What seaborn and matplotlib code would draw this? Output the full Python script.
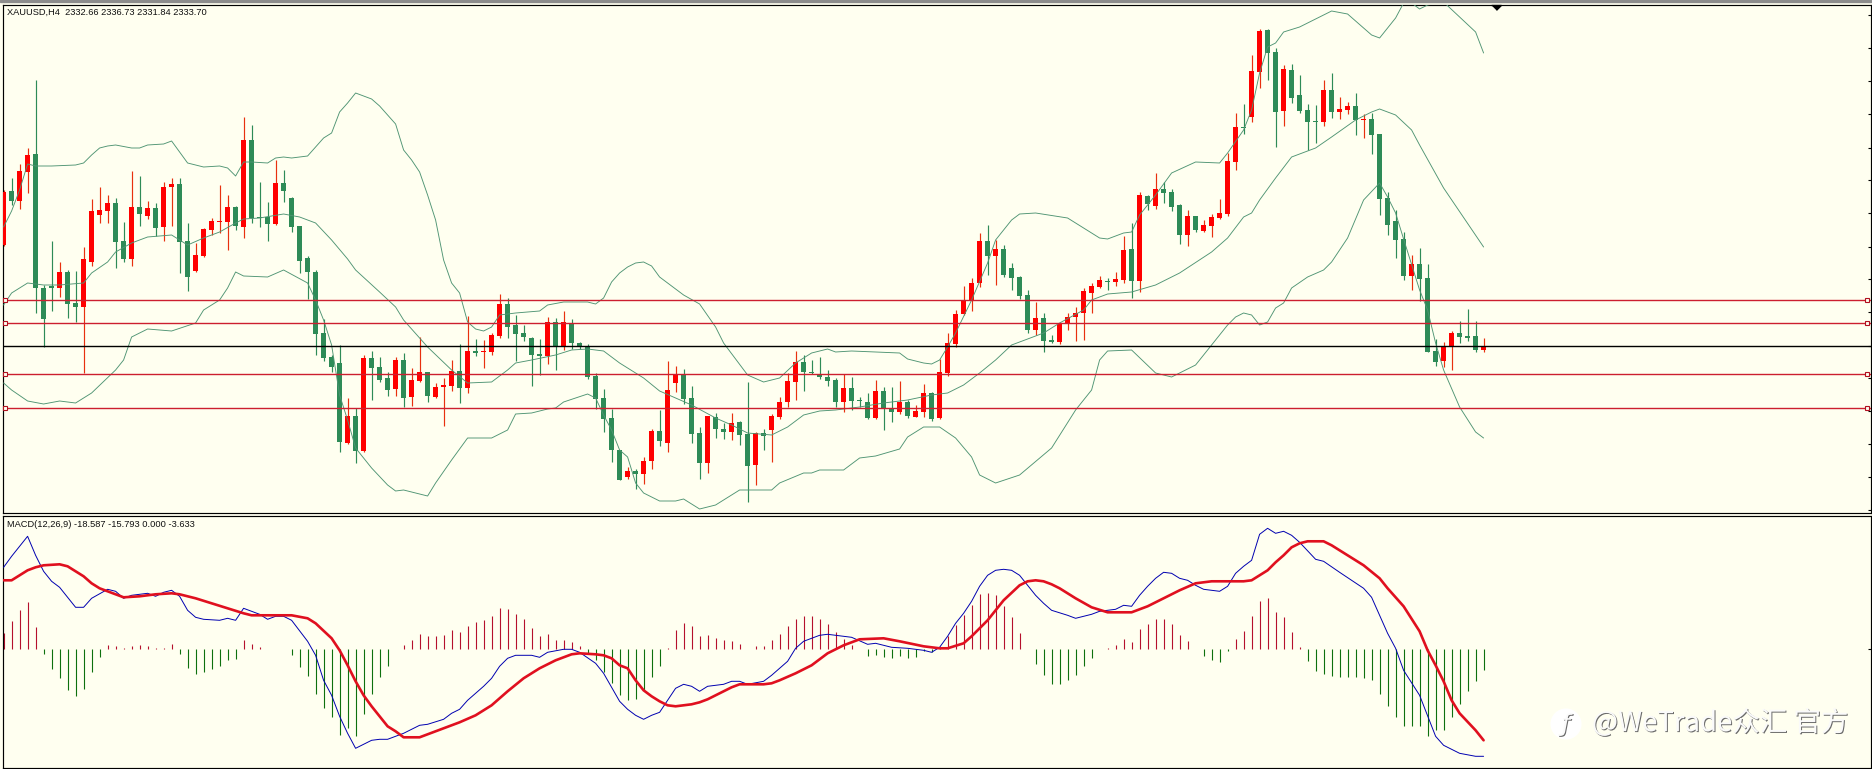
import matplotlib
matplotlib.use("Agg")
import matplotlib.pyplot as plt
import matplotlib.patheffects as pe
from matplotlib.patches import Rectangle
from matplotlib.transforms import blended_transform_factory
import seaborn as sns

# the price scale is cropped off, so prices are kept in chart rows (small = high)
opens = [245,191,201,172,154,288,286,288,272,303,
         307,262,215,211,203,241,259,207,216,208,
         227,187,184,241,271,256,230,222,222,207,
         227,140,217,217,224,183,198,226,258,272,
         333,357,363,443,416,451,358,367,378,389,
         360,397,381,372,397,387,386,371,388,351,
         352,352,336,304,325,333,338,354,356,322,
         347,323,343,347,376,398,418,450,477,471,
         474,461,431,443,383,374,398,433,463,417,
         429,432,422,434,465,433,430,417,402,382,
         362,372,374,377,380,402,388,400,402,418,
         391,409,412,402,417,412,393,418,373,344,
         314,301,283,241,256,249,268,277,295,330,
         318,340,342,324,317,313,293,287,281,282,
         280,249,281,196,206,189,192,205,235,216,
         231,226,218,214,162,127,117,72,30,52,
         111,70,95,110,121,122,90,112,110,106,
         120,119,134,198,221,239,276,264,278,351,
         361,347,333,336,336,350]
closes = [192,201,171,155,288,319,288,272,304,307,
          259,211,210,203,242,259,207,214,208,228,
          187,184,242,277,255,229,221,221,207,226,
          140,218,218,224,183,191,227,261,272,334,
          358,367,442,416,451,358,368,380,390,360,
          398,380,372,396,387,385,371,388,351,353,
          351,335,304,327,334,337,355,356,322,347,
          322,343,347,377,399,419,450,480,471,474,
          461,431,441,390,374,399,434,463,416,429,
          432,423,435,466,433,436,416,402,381,362,
          372,373,377,381,402,388,401,401,418,391,
          409,412,402,416,411,393,419,372,343,314,
          301,283,241,256,249,275,278,296,330,318,
          341,342,324,317,313,291,286,280,282,279,
          250,281,195,204,189,193,207,235,216,230,
          225,217,213,161,127,128,71,31,53,112,
          69,98,111,122,122,90,112,109,106,120,
          119,135,199,225,240,276,264,279,352,362,
          347,333,337,338,350,347]
highs = [190,178,164,148,80,285,241,262,270,271,
         247,199,187,195,198,222,171,176,201,203,
         182,178,178,223,243,228,218,185,195,206,
         117,125,182,202,160,170,197,226,256,270,
         319,355,345,398,408,355,351,357,372,357,
         353,368,337,372,383,378,360,344,316,339,
         340,333,294,298,315,325,337,339,317,318,
         311,319,342,344,373,389,409,450,467,469,
         457,429,410,361,366,369,386,427,416,413,
         423,413,421,382,432,429,414,397,373,351,
         355,360,357,370,378,374,377,397,393,380,
         387,387,381,400,405,384,392,359,333,310,
         286,278,233,225,240,245,263,276,290,302,
         313,335,324,313,307,288,283,276,278,272,
         236,223,192,195,173,182,189,204,210,216,
         220,214,199,153,113,104,55,29,29,48,
         65,64,75,104,105,80,73,97,102,93,
         114,113,134,192,210,232,255,248,264,339,
         342,331,321,309,321,338]
lows = [246,205,209,193,313,347,311,297,318,322,
        373,266,223,223,268,262,266,226,219,236,
        241,226,273,291,272,257,235,233,250,230,
        238,223,227,241,225,202,232,273,299,355,
        361,372,452,444,463,452,400,382,396,396,
        407,406,382,402,398,426,391,403,393,356,
        368,355,338,338,361,341,386,375,364,370,
        350,349,349,379,409,432,462,480,479,489,
        484,469,446,452,392,404,443,479,473,438,
        439,440,445,502,485,450,462,419,407,400,
        391,374,379,386,407,412,410,407,419,419,
        430,422,414,418,417,417,421,419,376,347,
        315,311,287,275,285,277,290,299,333,335,
        352,343,344,330,341,340,313,288,290,286,
        283,298,292,210,209,203,211,244,246,232,
        232,237,219,216,170,134,122,88,80,147,
        126,103,113,150,143,126,118,119,114,135,
        138,154,215,235,258,280,290,301,352,366,
        367,370,343,341,352,352]

# bollinger bands: bar number and level at each bend of the line
upper_bars = [0,1,2,3,4,6,9,10,11,12,13,14,16,17,18,20,21,23,25,27,28,29,30,31,33,34,35,36,38,40,41,42,43,44,45,46,47,49,50,51,52,53,54,55,
              56,57,58,59,60,61,62,64,67,68,70,73,74,75,76,77,78,79,80,81,82,85,87,89,90,93,95,97,99,101,103,104,106,109,112,113,115,116,117,118,119,
              121,123,124,126,127,129,133,135,137,138,140,141,142,144,146,149,152,153,155,156,157,158,159,160,162,164,166,168,170,171,172,174,175,176,177,178,180,182,184,185]
upper_vals = [227,211,190,164,166,166,165,163,155,148,146,145,148,148,145,144,141,163,167,166,168,176,162,162,163,158,157,158,156,138,133,112,103,93,96,99,106,124,150,160,172,195,220,260,
              283,293,322,329,331,327,315,313,311,305,302,302,304,298,282,273,267,263,262,266,277,295,304,327,343,375,382,378,363,353,349,352,351,352,353,359,363,364,360,347,333,
              300,263,240,220,214,213,218,228,238,239,233,232,215,195,173,162,163,153,130,110,73,47,43,32,27,19,11,14,28,35,38,18,3,3,9,5,2,17,32,53]
middle_bars = [0,1,3,5,7,10,11,13,14,16,18,21,23,25,27,29,30,32,35,37,39,41,43,44,47,49,50,53,56,58,61,63,64,66,69,71,73,75,77,
               80,82,86,89,91,93,96,98,100,102,104,107,110,113,116,118,120,122,124,126,130,132,135,136,138,141,144,147,151,153,155,
               156,157,159,161,164,166,169,171,172,174,176,177,180,185]
middle_vals = [305,293,283,285,285,283,273,262,252,243,237,235,245,238,232,223,219,218,214,217,223,240,259,270,292,307,320,347,370,383,382,370,363,360,355,350,349,351,363,
               378,391,405,418,425,433,435,427,415,411,410,407,403,400,395,393,385,373,360,345,333,323,310,300,294,292,285,273,252,238,217,
               213,200,178,157,148,137,120,112,109,115,130,145,188,247]
lower_bars = [0,1,3,5,7,9,11,14,15,16,18,21,24,25,27,28,29,30,33,35,38,39,40,41,42,43,44,46,48,49,50,52,53,54,56,58,61,63,64,66,68,69,70,73,74,75,76,77,78,79,80,82,84,85,87,89,92,96,97,100,101,102,105,107,109,112,113,115,117,119,121,122,124,127,131,134,136,137,138,141,144,146,149,151,153,154,155,156,
              157,158,159,160,161,163,165,166,168,170,172,173,174,175,177,178,179,180,182,184,185]
lower_vals = [383,390,401,404,401,403,393,370,360,337,329,331,323,310,300,288,272,276,277,270,283,300,320,345,395,420,448,468,485,491,490,494,496,483,460,438,438,430,414,413,409,408,402,394,398,415,430,450,457,483,493,501,501,499,509,505,490,490,483,473,473,470,470,458,456,449,437,427,427,438,457,475,483,475,448,410,390,360,351,350,373,377,365,345,325,317,313,315,
              325,322,308,303,288,277,270,262,238,200,183,197,213,239,290,310,343,370,407,432,438]

# horizontal levels on the price pane
red_levels = [299.5, 322.5, 373.5, 407.5]
black_level = 346.3
price_ticks = [15,48,81,114,148,180,213,247,279,312,346,378,411,444,477,510]

# macd pane, height above the zero line
histogram = [16,28,39,47,22,-5,-20,-29,-41,-47,
             -40,-23,-8,4,3,1.5,3,4,3,1,
             1.5,5,-5,-19,-25,-23,-20,-17,-11,-10,
             9,5,2,0.7,0.5,0.5,-6,-18,-27,-45,
             -59,-68,-86,-79,-87,-65,-45,-28,-17,0.5,
             4,9,15,13,13,14,19,17,23,27,
             29,33,41,40,35,30,21,13,15,9,
             9,7,3,-4,-11,-23,-34,-46,-51,-50,
             -42,-28,-17,1,19,26,23,13,14,11,
             9,8,5,0.3,3,3,9,15,23,30,
             33,33,30,25,17,10,4,0.5,-7,-6,
             -8,-9,-7,-9,-8,-2,-3,1,13,24,
             34,44,55,56,54,43,32,16,0.5,-15,
             -26,-35,-35,-31,-26,-17,-9,0.5,1,4,
             10,7,20,25,30,30,25,14,8,0.3,
             -7,-11,-13,-2,10,18,33,48,51,37,
             32,17,2,-12,-22,-25,-27,-28,-28,-28,
             -29,-31,-45,-57,-68,-77,-77,-77,-87,-81,
             -81,-68,-55,-42,-32,-21]
macd_bars = [0,1,3,4,5,6,7,9,10,11,13,14,15,16,18,19,20,21,22,23,24,25,27,28,29,30,32,33,34,35,36,38,39,40,41,42,43,44,45,46,47,48,50,52,53,55,56,57,58,60,61,62,63,64,66,67,68,70,71,72,74,75,77,
             78,79,80,81,82,84,85,86,87,88,89,90,91,92,93,95,96,98,99,100,102,103,105,106,108,109,110,111,113,115,116,117,118,119,120,121,122,123,124,125,126,127,128,129,130,131,133,134,136,137,139,140,141,142,143,144,145,146,147,148,149,150,152,153,154,155,
             156,157,158,159,160,161,162,164,165,167,170,171,173,174,175,177,179,180,182,184,185]
macd_vals = [82,93,113,94,78,68,62,42,42,51,60,58,51,54,56,53,57,59,53,39,32,30,29,31,29,41,35,30,33,33,29,8,-6,-31,-46,-67,-84,-99,-95,-91,-90,-90,-84,-76,-75,-70,-64,-60,-51,-37,-29,-17,-9,-6,-6,-8,-3,0,0,-3,-14,-24,-52,
             -60,-66,-70,-66,-63,-39,-35,-37,-42,-37,-36,-35,-32,-32,-35,-32,-26,-12,1,8,14,15,13,12,5,6,4,2,1,-1,-3,2,13,26,36,48,63,74,79,80,79,74,64,54,46,39,34,31,35,38,40,44,43,54,63,71,77,76,71,69,64,60,58,63,76,83,
             89,115,121,116,118,114,107,90,88,77,61,52,16,1,-21,-46,-87,-96,-104,-107,-107]
signal_bars = [0,1,2,3,4,5,7,8,9,10,11,12,13,15,17,19,21,22,24,26,28,30,31,36,38,39,41,42,43,44,45,46,47,48,49,50,52,53,55,57,59,61,63,65,67,69,71,72,74,75,76,77,
               78,79,80,81,82,83,84,86,87,88,90,91,92,95,96,97,99,101,103,105,107,110,112,115,117,118,120,121,123,125,127,128,129,130,131,132,134,136,138,141,143,145,147,149,151,154,155,
               156,157,158,159,160,161,162,163,165,166,168,170,172,173,175,177,178,179,180,181,182,184,185]
signal_vals = [69,69,74,79,82,84,85,83,78,73,66,61,58,52,53,55,56,55,51,46,41,36,34,34,31,26,11,-1,-16,-32,-46,-57,-67,-77,-82,-88,-88,-85,-79,-73,-66,-56,-42,-29,-19,-11,-5,-4,-5,-6,-9,-16,
               -19,-31,-41,-47,-52,-56,-57,-55,-53,-50,-42,-38,-35,-35,-34,-31,-24,-16,-4,4,10,11,8,3,1,1,6,13,29,49,64,68,69,68,65,61,51,42,37,37,43,51,59,66,68,68,68,
               69,74,79,87,94,102,106,108,108,104,94,84,71,61,43,18,-1,-16,-32,-51,-64,-81,-91]

price_label = "XAUUSD,H4  2332.66 2336.73 2331.84 2333.70"
macd_label = "MACD(12,26,9) -18.587 -15.793 0.000 -3.633"
watermark = "@WeTrade众汇 官方"

IVORY = "#fffff0"
SEA = "#2e8b57"
W, H = 1872, 769
PIX = 8  # pixels per bar


def pane(top, bottom):
    # axes placed by pixel rows of the terminal window
    ax = fig.add_axes([2.5 / W, 1 - bottom / H, 1868 / W, (bottom - top) / H], facecolor=IVORY)
    ax.set_xlim((2.5 - 3.6) / PIX, (1870.5 - 3.6) / PIX)
    ax.grid(False)
    for s in ax.spines.values():
        s.set_color("black")
        s.set_linewidth(0.85)
    ax.set_xticks([])
    ax.yaxis.tick_right()
    ax.tick_params(axis="y", direction="in", length=2, width=0.8, color="black", labelright=False)
    return ax


sns.set_theme(style="white")
plt.rcParams["font.family"] = ["Noto Sans CJK SC", "DejaVu Sans"]

fig = plt.figure(figsize=(W / 100, H / 100), dpi=100, facecolor=IVORY)
fig.patches.append(Rectangle((0, 1 - 2 / H), 1, 2 / H, transform=fig.transFigure, color="#8c8c8c"))

ax = pane(4.5, 513)
ax.set_ylim(513, 4.5)
ax.set_yticks(price_ticks)

# candles
bars = range(len(opens))
colors = ["#ff0000" if c < o else SEA for o, c in zip(opens, closes)]
wicks = ["#e8300f" if c < o else SEA for o, c in zip(opens, closes)]
ax.vlines(bars, highs, lows, colors=wicks, lw=0.85, zorder=2)
for i in bars:
    ax.bar(i, max(abs(closes[i] - opens[i]), 1), bottom=min(opens[i], closes[i]),
           width=0.6, color=colors[i], linewidth=0, zorder=3)

# bands go on top of the candles like in the terminal
for b, v in [(upper_bars, upper_vals), (middle_bars, middle_vals), (lower_bars, lower_vals)]:
    sns.lineplot(x=b, y=v, ax=ax, color="#4f9473", lw=0.65, sort=False, errorbar=None, zorder=4)

# level lines with their little handles
trans = blended_transform_factory(ax.transAxes, ax.transData)
for lev in red_levels:
    ax.axhline(lev, color="#cc1f2f", lw=1.0, zorder=5)
    ax.plot([2.8 / 1868, 1864.5 / 1868], [lev, lev], ls="none", marker="s", ms=3.2, mfc=IVORY,
            mec="#b01020", mew=0.8, transform=trans, zorder=6, clip_on=False)
ax.axhline(black_level, color="black", lw=1.0, zorder=5)

# shift marker on the top edge
ax.plot([186.5], [4.5], ls="none", marker=[(-1, 0), (1, 0), (0, -1)], ms=7, color="black", zorder=7, clip_on=False)

ax.text(4.5 / 1868, 1 - 7.4 / 508.5, price_label, transform=ax.transAxes, fontsize=6.65, color="#101010",
        va="center", ha="left", family=["Liberation Sans"])

# macd pane
ax2 = pane(516, 768)
ax2.set_ylim(-118.7, 133.3)
ax2.set_yticks([0])
hist_colors = ["#b5102c" if v > 0 else "#0e700e" for v in histogram]
ax2.vlines(range(len(histogram)), 0, histogram, colors=hist_colors, lw=0.8, zorder=2)
sns.lineplot(x=macd_bars, y=macd_vals, ax=ax2, color="#0000b0", lw=0.7, sort=False, errorbar=None, zorder=3)
sns.lineplot(x=signal_bars, y=signal_vals, ax=ax2, color="#e0101f", lw=1.9, sort=False, errorbar=None, zorder=4)

ax2.text(4.5 / 1868, 1 - 8.7 / 252, macd_label, transform=ax2.transAxes, fontsize=6.65, color="#101010",
         va="center", ha="left", family=["Liberation Sans"])

# watermark, embossed: white glyphs with a dark shadow to the lower right
emboss = [pe.SimplePatchShadow(offset=(0.7, -0.7), shadow_rgbFace="#6a6a6a", alpha=1.0), pe.Normal()]
fig.text(1592 / W, 1 - 723 / H, watermark, fontsize=19.8, color="#fafafa", va="center", ha="left",
         family=["Noto Sans CJK SC", "DejaVu Sans"], path_effects=emboss, zorder=10)
fig.text(1566 / W, 1 - 724 / H, "ƒ", fontsize=17, color="#fafafa", va="center", ha="center",
         family=["DejaVu Sans"], style="italic", path_effects=emboss,
         bbox=dict(boxstyle="circle,pad=0.15", fc="white", ec="none"), zorder=10)

fig.savefig("out.png", dpi=100, facecolor=IVORY)
